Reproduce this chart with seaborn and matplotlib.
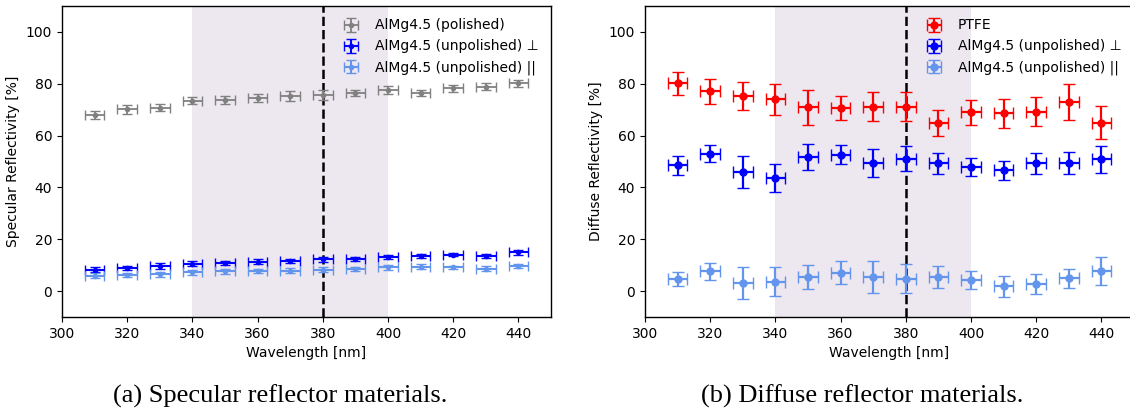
import numpy as np
import seaborn as sns
from matplotlib import pyplot as plt

wavelength = [310, 320, 330, 340, 350, 360, 370, 380, 390, 400, 410, 420, 430, 440]
wl_err = 3

# specular panel
polished = [68.0, 70.1, 70.8, 73.5, 73.7, 74.5, 75.2, 75.7, 76.4, 77.5, 76.4, 78.2, 78.9, 80.2]
polished_err = [1.6, 1.6, 1.3, 1.5, 1.5, 1.5, 2.0, 2.0, 1.3, 1.6, 1.2, 1.5, 1.3, 1.3]
unpol_perp_spec = [8.3, 8.8, 9.7, 10.5, 10.9, 11.3, 11.5, 12.2, 12.4, 13.2, 13.6, 14.1, 13.7, 14.9]
unpol_perp_spec_err = [1.0, 0.8, 1.0, 1.0, 0.9, 0.9, 0.8, 0.9, 0.9, 0.9, 0.8, 0.6, 0.8, 0.9]
unpol_par_spec = [6.0, 6.2, 6.5, 7.2, 7.6, 7.8, 7.8, 8.2, 8.6, 9.1, 9.4, 9.1, 8.7, 9.6]
unpol_par_spec_err = [0.9, 0.9, 0.9, 0.9, 0.9, 0.9, 1.0, 1.0, 0.8, 1.0, 0.9, 0.7, 1.1, 0.8]

# diffuse panel
ptfe = [80.2, 77.1, 75.3, 74.0, 70.9, 70.7, 71.2, 71.2, 65.0, 69.0, 68.6, 69.2, 73.0, 65.0]
ptfe_err = [4.4, 4.8, 5.4, 6.0, 6.8, 4.5, 5.5, 5.5, 5.0, 4.8, 5.5, 5.5, 6.8, 6.4]
unpol_perp_diff = [48.5, 53.0, 46.1, 43.6, 51.7, 52.6, 49.5, 51.1, 49.3, 47.9, 46.6, 49.3, 49.3, 50.8]
unpol_perp_diff_err = [3.6, 3.3, 6.2, 5.4, 5.1, 3.7, 5.5, 4.7, 4.0, 3.4, 3.7, 4.0, 4.2, 5.1]
unpol_par_diff = [4.6, 7.6, 3.0, 3.6, 5.3, 7.1, 5.5, 4.8, 5.5, 4.4, 1.8, 2.7, 4.9, 7.7]
unpol_par_diff_err = [2.6, 3.3, 6.2, 5.5, 4.6, 4.5, 6.1, 5.7, 4.3, 3.5, 4.0, 4.0, 3.7, 5.3]

sns.set_theme(style='ticks', rc={
    'axes.edgecolor': 'black', 'axes.labelcolor': 'black', 'text.color': 'black',
    'xtick.color': 'black', 'ytick.color': 'black', 'axes.linewidth': 1.0,
    'xtick.major.size': 3.5, 'ytick.major.size': 3.5,
    'xtick.major.width': 0.8, 'ytick.major.width': 0.8,
    'font.size': 10, 'axes.labelsize': 10, 'xtick.labelsize': 10,
    'ytick.labelsize': 10, 'legend.fontsize': 10,
})
plt.rcParams['font.family'] = ['DejaVu Sans']

fig = plt.figure(figsize=(11.3, 4.17), dpi=100)
ax1 = fig.add_axes([62 / 1130, 100 / 417, 489 / 1130, 311 / 417])
ax2 = fig.add_axes([645 / 1130, 100 / 417, 489 / 1130, 311 / 417])

x = np.array(wavelength)


def decorate(ax, ylabel):
    ax.axvspan(340, 400, color='#e9e2ec', alpha=0.8, lw=0, zorder=0)
    ax.axvline(380, color='black', ls='--', lw=1.8, zorder=1)
    ax.set_xlim(300, 450)
    ax.set_ylim(-10, 110)
    ax.set_xticks(range(300, 450, 20))
    ax.set_yticks(range(0, 101, 20))
    ax.set_xlabel('Wavelength [nm]')
    ax.set_ylabel(ylabel)
    ax.legend(loc='upper right', frameon=False, handlelength=1.6, handletextpad=0.9)


ax1.errorbar(x, polished, xerr=wl_err, yerr=polished_err, fmt='o', ms=3,
             color='grey', capsize=3.5, lw=1.3, label='AlMg4.5 (polished)', zorder=3)
ax1.errorbar(x, unpol_perp_spec, xerr=wl_err, yerr=unpol_perp_spec_err, fmt='o', ms=3,
             color='blue', capsize=3.5, lw=1.5, label='AlMg4.5 (unpolished) \u22a5', zorder=3)
ax1.errorbar(x, unpol_par_spec, xerr=wl_err, yerr=unpol_par_spec_err, fmt='o', ms=3,
             color='cornflowerblue', capsize=3.5, lw=1.5, label='AlMg4.5 (unpolished) ||', zorder=3)
decorate(ax1, 'Specular Reflectivity [%]')

ax2.errorbar(x, ptfe, xerr=wl_err, yerr=ptfe_err, fmt='o', ms=5,
             color='red', capsize=4.5, lw=1.6, label='PTFE', zorder=3)
ax2.errorbar(x, unpol_perp_diff, xerr=wl_err, yerr=unpol_perp_diff_err, fmt='o', ms=5,
             color='blue', capsize=4.5, lw=1.6, label='AlMg4.5 (unpolished) \u22a5', zorder=3)
ax2.errorbar(x, unpol_par_diff, xerr=wl_err, yerr=unpol_par_diff_err, fmt='o', ms=5,
             color='cornflowerblue', capsize=4.5, lw=1.6, label='AlMg4.5 (unpolished) ||', zorder=3)
decorate(ax2, 'Diffuse Reflectivity [%]')

fig.text(280 / 1130, 1 - 396 / 417, '(a) Specular reflector materials.', ha='center',
         va='center', fontsize=19, family=['Liberation Serif'])
fig.text(862 / 1130, 1 - 396 / 417, '(b) Diffuse reflector materials.', ha='center',
         va='center', fontsize=19, family=['Liberation Serif'])

fig.savefig('out.png', dpi=100)
